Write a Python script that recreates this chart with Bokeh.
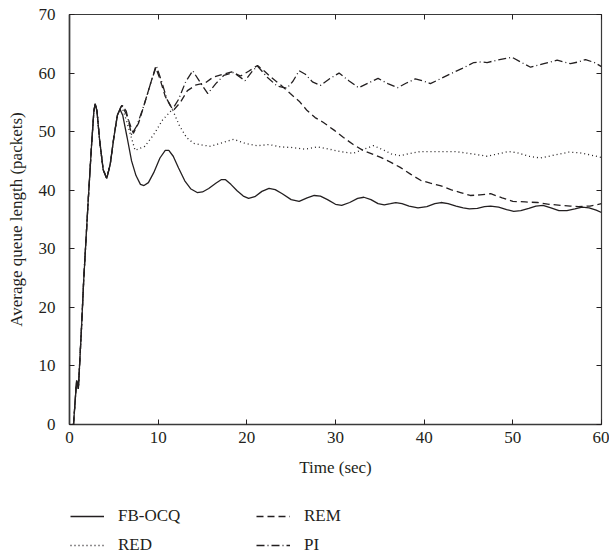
from bokeh.plotting import figure
from bokeh.layouts import column
from bokeh.models import Range1d, LinearAxis, SingleIntervalTicker, Legend, LegendItem
from bokeh.embed import file_html
from bokeh.resources import INLINE

# ---------------- data ----------------
fb_t = [0.45, 0.8, 0.9, 1.0, 1.35, 1.6, 2.1, 2.5, 2.75, 2.9, 3.1, 3.4, 3.8, 4.2, 4.6, 5.0, 5.4, 5.7, 6.0,
        6.5, 7.0, 7.5, 8.0, 8.4, 8.9, 9.5, 10.2, 10.8, 11.2, 11.7, 12.3, 13.0, 13.7, 14.4, 15.0, 15.7,
        16.5, 17.1, 17.6, 18.2, 18.9, 19.6, 20.2, 20.9, 21.7, 22.5, 23.2, 24.0, 25.0, 25.9, 26.8, 27.6,
        28.3, 29.1, 30.0, 30.7, 31.6, 32.5, 33.2, 34.0, 34.8, 35.5, 36.2, 36.8, 37.5, 38.3, 39.3, 40.3,
        41.2, 41.9, 42.7, 43.6, 44.4, 45.1, 46.0, 46.8, 47.5, 48.4, 49.3, 50.1, 50.9, 51.8, 52.6, 53.4,
        54.3, 55.2, 56.1, 57.0, 57.8, 58.6, 59.4, 60.0]
fb_v = [0, 7.5, 7.0, 6.1, 16.4, 24.6, 38, 48, 53.5, 54.8, 53.5, 48.5, 43.5, 42, 44.5, 49, 52.8, 53.8, 52.8,
        49, 45, 42.5, 41.0, 40.8, 41.3, 43.0, 45.5, 46.8, 46.8, 45.8, 43.8, 41.6, 40.2, 39.6, 39.7, 40.3,
        41.2, 41.8, 41.8, 41.0, 39.9, 39.0, 38.6, 38.9, 39.8, 40.3, 40.1, 39.4, 38.4, 38.1, 38.7, 39.1,
        39.0, 38.4, 37.6, 37.4, 37.9, 38.6, 38.8, 38.4, 37.7, 37.5, 37.7, 37.9, 37.7, 37.3, 37.0, 37.2,
        37.7, 37.9, 37.7, 37.3, 37.0, 36.8, 36.9, 37.2, 37.3, 37.1, 36.7, 36.4, 36.5, 36.9, 37.3, 37.4,
        37.0, 36.5, 36.5, 36.8, 37.1, 37.0, 36.6, 36.2]

early_t = [0.45, 0.8, 0.9, 1.0, 1.35, 1.6, 2.1, 2.5, 2.75, 2.9, 3.1, 3.4, 3.8, 4.2, 4.6, 5.0, 5.4]
early_v = [0, 7.5, 7.0, 6.1, 16.4, 24.6, 38, 48, 53.5, 54.8, 53.5, 48.5, 43.5, 42, 44.5, 49, 52.8]

red_t = early_t + [5.9, 6.4, 7.4, 8.5, 9.5, 10.5, 11.6, 12.4, 13.2, 14.0, 15.0, 15.9, 17.0, 18.5, 19.8,
                   21.2, 22.5, 23.8, 25.0, 26.6, 28.0, 29.3, 30.5, 32.0, 33.0, 34.3, 35.5, 36.3, 37.3,
                   38.5, 39.6, 41.0, 42.5, 43.5, 45.0, 47.1, 48.3, 49.5, 50.5, 51.8, 53.1, 54.7, 56.3,
                   57.5, 58.8, 60.0]
red_v = early_v + [54.3, 52, 46.8, 47.5, 49.5, 52, 53.8, 51, 49, 48, 47.7, 47.5, 48.0, 48.7, 48.0,
                   47.6, 47.8, 47.4, 47.3, 47.0, 47.4, 47.0, 46.6, 46.3, 46.9, 47.6, 46.8, 46.2, 45.9,
                   46.3, 46.6, 46.6, 46.6, 46.6, 46.3, 45.8, 46.2, 46.6, 46.4, 45.8, 45.5, 46.0, 46.5,
                   46.4, 46.0, 45.6]

rem_t = early_t + [5.9, 6.4, 7.2, 7.8, 8.5, 9.2, 9.7, 10.2, 10.8, 11.7, 12.5, 13.3, 14.3, 15.3, 16.2,
                   17.3, 18.3, 19.3, 20.2, 21.2, 22.0, 22.8, 23.8, 24.9, 25.9, 26.8, 27.7, 28.6, 29.8,
                   30.9, 32.0, 33.1, 34.1, 35.1, 36.2, 37.3, 38.5, 39.6, 40.7, 41.8, 43.0, 44.1, 45.2,
                   46.3, 47.5, 48.8, 50.0, 51.4, 52.8, 54.1, 55.4, 56.5, 57.4, 58.7, 60.0]
rem_v = early_v + [54.5, 53, 49.7, 51.5, 55, 58.5, 61, 59, 56, 53.6, 55, 57, 58, 58.3, 59.3,
                   59.8, 60.2, 59.5, 60.3, 61.3, 60.3, 59.2, 58.0, 56.5, 55.2, 53.6, 52.4, 51.6, 50.3,
                   49.0, 47.8, 46.8, 46.2, 45.6, 44.8, 43.9, 42.7, 41.7, 41.2, 40.8, 40.1, 39.6, 39.1,
                   39.2, 39.4, 38.7, 38.1, 38.0, 37.9, 37.6, 37.4, 37.3, 37.2, 37.3, 37.7]

pi_t = early_t + [5.9, 6.4, 7.0, 7.6, 8.4, 9.2, 9.8, 10.4, 11.0, 11.6, 12.3, 13.1, 13.9, 14.7, 15.6,
                  16.5, 17.4, 18.5, 19.8, 20.6, 21.2, 22.3, 23.4, 24.5, 25.2, 25.9, 26.6, 27.4, 28.3,
                  29.3, 30.4, 31.5, 32.6, 33.7, 34.8, 35.9, 37.0, 38.0, 39.0, 40.0, 40.7, 41.8, 43.0,
                  44.3, 45.6, 46.4, 47.1, 48.5, 49.9, 51.0, 52.0, 53.5, 55.0, 56.5, 57.4, 58.2, 59.2,
                  60.0]
pi_v = early_v + [54.6, 53.5, 49.5, 51, 54.5, 58.5, 61.2, 58.5, 55.5, 53.8, 55.5, 58.5, 60.4, 58.5, 56.5,
                  58.2, 59.6, 60.1, 58.7, 60.3, 61.2, 59.3, 57.8, 57.4, 58.6, 60.4, 59.8, 58.5, 57.9,
                  59.0, 60.0, 58.7, 57.5, 58.3, 59.1, 58.2, 57.5, 58.3, 59.0, 58.6, 58.2, 59.0, 59.9,
                  60.8, 61.8, 61.9, 61.8, 62.3, 62.7, 61.8, 61.0, 61.6, 62.2, 61.6, 61.9, 62.3, 61.8,
                  61.1]

labels = ["FB-OCQ", "RED", "REM", "PI"]
x_label = "Time (sec)"
y_label = "Average queue length (packets)"

# ---------------- style ----------------
FONT = "Liberation Serif"
INK = "#231f20"
AX = "#3a3a3a"
W = 1.3
STYLES = [None, "1 3", "7 4", "8 3 1 3"]

p = figure(width=609, height=490, output_backend="svg", toolbar_location=None,
           x_range=Range1d(0, 60), y_range=Range1d(0, 70),
           min_border_left=69, min_border_right=8, min_border_top=14, min_border_bottom=66)
p.background_fill_color = "white"
p.border_fill_color = "white"
p.grid.visible = False
p.outline_line_color = AX
p.outline_line_width = 1.2

for ax in (p.xaxis[0], p.yaxis[0]):
    ax.ticker = SingleIntervalTicker(interval=10)
    ax.major_tick_in = 5
    ax.major_tick_out = 0
    ax.minor_tick_line_color = None
    ax.axis_line_color = AX
    ax.axis_line_width = 1.6
    ax.major_tick_line_color = INK
    ax.major_label_text_font = FONT
    ax.major_label_text_font_size = "17px"
    ax.major_label_text_color = INK
    ax.axis_label_text_font = FONT
    ax.axis_label_text_font_size = "17px"
    ax.axis_label_text_font_style = "normal"
    ax.axis_label_text_color = INK

p.xaxis[0].axis_label = x_label
p.xaxis[0].major_label_standoff = 3
p.xaxis[0].axis_label_standoff = 12
p.yaxis[0].axis_label = y_label
p.yaxis[0].major_label_standoff = 10
p.yaxis[0].axis_label_standoff = 10

for side in ("above", "right"):
    a = LinearAxis(ticker=SingleIntervalTicker(interval=10))
    a.major_tick_in = 5
    a.major_tick_out = 0
    a.minor_tick_line_color = None
    a.axis_line_color = None
    a.major_tick_line_color = INK
    a.major_label_text_font_size = "1px"
    a.major_label_text_color = None
    a.major_label_standoff = 0
    p.add_layout(a, side)

series = [(fb_t, fb_v), (red_t, red_v), (rem_t, rem_v), (pi_t, pi_v)]
for (t, v), dash in zip(series, STYLES):
    kw = {} if dash is None else {"line_dash": dash}
    p.line(t, v, line_color=INK, line_width=W, **kw)

# ---------------- legend (separate strip under the chart) ----------------
# the strip's ranges lie outside the data, so its lines only serve as legend samples
lg = figure(width=609, height=66, output_backend="svg", toolbar_location=None,
            x_range=Range1d(-20, -10), y_range=Range1d(-20, -10),
            x_axis_type=None, y_axis_type=None,
            min_border_left=0, min_border_right=0, min_border_top=0, min_border_bottom=0)
lg.grid.visible = False
lg.outline_line_color = None
lg.background_fill_color = "white"
lg.border_fill_color = "white"

items = []
for lab, (t, v), dash in zip(labels, series, STYLES):
    kw = {} if dash is None else {"line_dash": dash}
    r = lg.line(t, v, line_color=INK, line_width=W, **kw)
    items.append(LegendItem(label=lab, renderers=[r]))

legend = Legend(items=items, location=(1, 1), orientation="vertical", nrows=2)
legend.label_text_font = FONT
legend.label_text_font_size = "17px"
legend.label_text_color = INK
legend.glyph_width = 34
legend.glyph_height = 18
legend.label_height = 18
legend.label_width = 129
legend.label_standoff = 14
legend.spacing = 9
legend.padding = 0
legend.margin = 0
legend.border_line_alpha = 0
legend.background_fill_alpha = 0
lg.add_layout(legend, "center")

layout = column(p, lg, spacing=0)
open("out.html", "w").write(file_html(layout, INLINE))
